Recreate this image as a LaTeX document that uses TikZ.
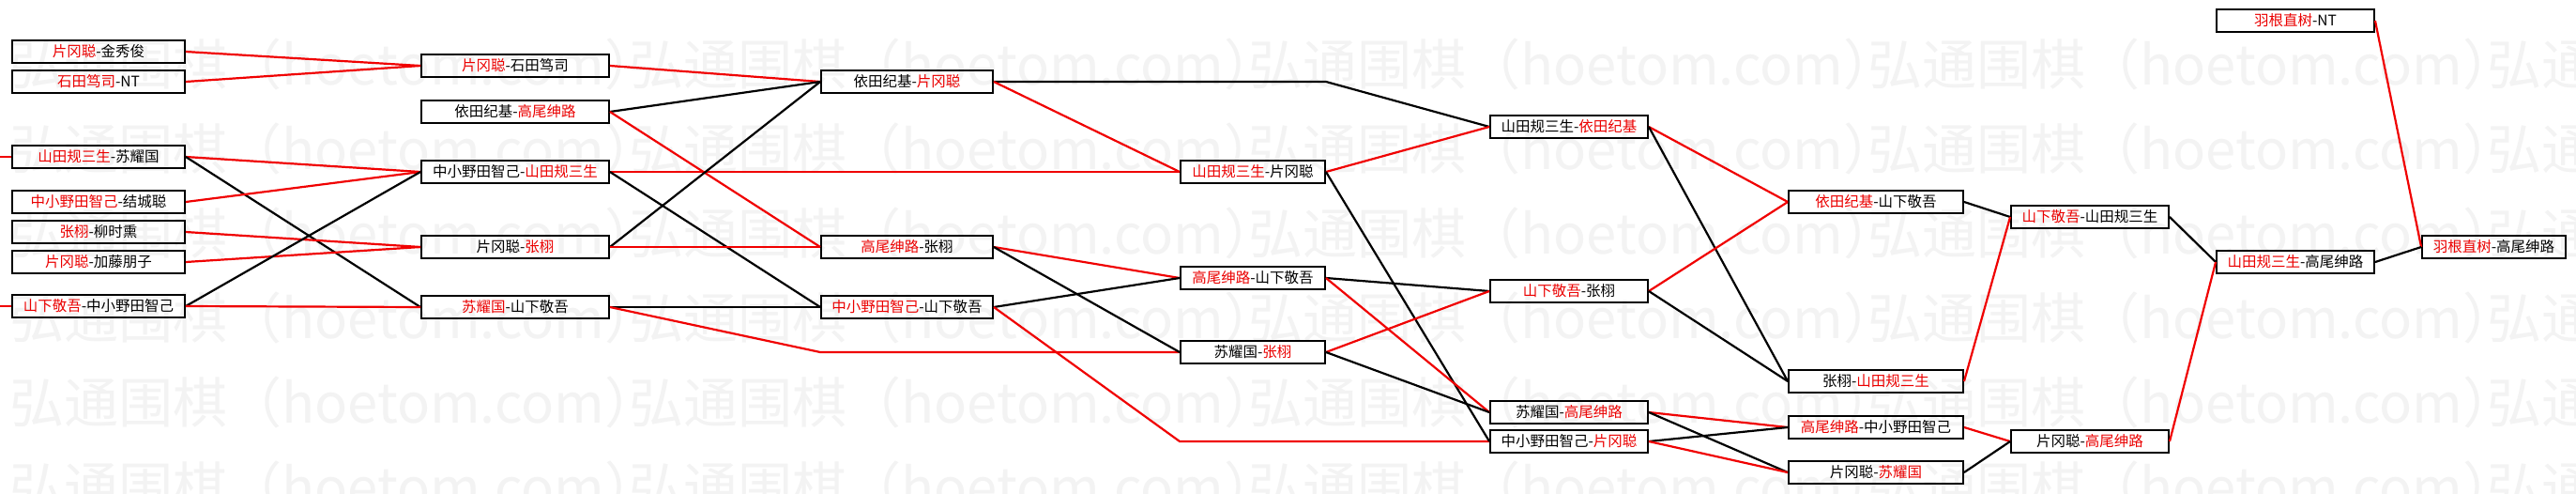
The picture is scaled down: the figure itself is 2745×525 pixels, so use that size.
\documentclass[tikz,border=0pt]{standalone}
\usepackage{fontspec}
\setmainfont{Noto Sans CJK SC}
\definecolor{win}{RGB}{235,0,0}
\definecolor{wline}{RGB}{240,0,0}
\definecolor{wmark}{RGB}{243,243,243}
\newcommand\winr[1]{\textcolor{win}{#1}}
\begin{document}
\begin{tikzpicture}[x=1pt,y=-1pt,
  box/.style={draw=black, line width=2.4pt, minimum height=23.5pt, inner sep=0pt, font=\fontsize{15.5}{16}\selectfont},
  c1/.style={box, minimum width=183.5pt},
  c2/.style={box, minimum width=199.5pt},
  c3/.style={box, minimum width=182.5pt},
  c4/.style={box, minimum width=153.5pt},
  c5/.style={box, minimum width=167.5pt},
  c6/.style={box, minimum width=185.5pt},
  c9/.style={box, minimum width=152.5pt},
  rl/.style={draw=wline, line width=2.2pt},
  bl/.style={draw=black, line width=2.2pt},
  wm/.style={text=wmark, font=\fontsize{58}{60}\selectfont, anchor=west, inner sep=0pt}]
\fill[white] (0,0) rectangle (2745,525);
\useasboundingbox (0,0) rectangle (2745,525);
% watermark
\foreach \r in {0,...,5}{
  \foreach \c in {0,...,4}{
    \node[wm] (wm-\r-\c) at ({10+660*\c},{68+90*\r}) {弘通围棋（hoetom.com）};
  }
}
% column 1
\node[c1] (A) at (105,55) {\winr{片冈聪}-金秀俊};
\node[c1] (B) at (105,87) {\winr{石田笃司}-NT};
\node[c1] (C) at (105,167) {\winr{山田规三生}-苏耀国};
\node[c1] (D) at (105,215) {\winr{中小野田智己}-结城聪};
\node[c1] (E) at (105,247) {\winr{张栩}-柳时熏};
\node[c1] (F) at (105,279) {\winr{片冈聪}-加藤朋子};
\node[c1] (G) at (105,326) {\winr{山下敬吾}-中小野田智己};
% column 2
\node[c2] (H) at (549,70) {\winr{片冈聪}-石田笃司};
\node[c2] (I) at (549,119) {依田纪基-\winr{高尾绅路}};
\node[c2] (J) at (549,183) {中小野田智己-\winr{山田规三生}};
\node[c2] (K) at (549,263) {片冈聪-\winr{张栩}};
\node[c2] (L) at (549,327) {\winr{苏耀国}-山下敬吾};
% column 3
\node[c3] (M) at (966.5,87) {依田纪基-\winr{片冈聪}};
\node[c3] (N) at (966.5,263) {\winr{高尾绅路}-张栩};
\node[c3] (O) at (966.5,327) {\winr{中小野田智己}-山下敬吾};
% column 4
\node[c4] (P) at (1335,183) {\winr{山田规三生}-片冈聪};
\node[c4] (Q) at (1335,296) {\winr{高尾绅路}-山下敬吾};
\node[c4] (R) at (1335,375) {苏耀国-\winr{张栩}};
% column 5
\node[c5] (S) at (1672,135) {山田规三生-\winr{依田纪基}};
\node[c5] (T) at (1672,310) {\winr{山下敬吾}-张栩};
\node[c5] (U) at (1672,439) {苏耀国-\winr{高尾绅路}};
\node[c5] (V) at (1672,470) {中小野田智己-\winr{片冈聪}};
% column 6
\node[c6] (W) at (1999,215) {\winr{依田纪基}-山下敬吾};
\node[c6] (X) at (1999,406) {张栩-\winr{山田规三生}};
\node[c6] (Y) at (1999,455) {\winr{高尾绅路}-中小野田智己};
\node[c6] (Z) at (1999,503) {片冈聪-\winr{苏耀国}};
% column 7
\node[c5] (AA) at (2227,231) {\winr{山下敬吾}-山田规三生};
\node[c5] (AB) at (2227,470) {片冈聪-\winr{高尾绅路}};
% column 8
\node[c5] (AC) at (2446,22) {\winr{羽根直树}-NT};
\node[c5] (AD) at (2446,279) {\winr{山田规三生}-高尾绅路};
% column 9
\node[c9] (AE) at (2657.5,263) {\winr{羽根直树}-高尾绅路};
% stubs
\coordinate (s1) at (0,167);
\coordinate (s2) at (0,326);
\draw[rl] (s1) -- (C.west);
\draw[rl] (s2) -- (G.west);
% round 1
\draw[rl] (A.east) -- (H.west);
\draw[rl] (B.east) -- (H.west);
\draw[rl] (C.east) -- (J.west);
\draw[bl] (C.east) -- (L.west);
\draw[rl] (D.east) -- (J.west);
\draw[rl] (E.east) -- (K.west);
\draw[rl] (F.east) -- (K.west);
\draw[bl] (G.east) -- (J.west);
\draw[rl] (G.east) -- (L.west);
% round 2
\draw[rl] (H.east) -- (M.west);
\draw[bl] (I.east) -- (M.west);
\draw[rl] (I.east) -- (N.west);
\draw[rl] (J.east) -- (P.west);
\draw[bl] (J.east) -- (O.west);
\draw[bl] (K.east) -- (M.west);
\draw[rl] (K.east) -- (N.west);
\draw[bl] (L.east) -- (O.west);
\draw[rl] (L.east) -- (O.west |- R.west) -- (R.west);
% round 3
\draw[bl] (M.east) -- (P.east |- M.east) -- (S.west);
\draw[rl] (M.east) -- (P.west);
\draw[rl] (N.east) -- (Q.west);
\draw[bl] (N.east) -- (R.west);
\draw[bl] (O.east) -- (Q.west);
\draw[rl] (O.east) -- (R.west |- V.west) -- (V.west);
% round 4
\draw[rl] (P.east) -- (S.west);
\draw[bl] (P.east) -- (V.west);
\draw[bl] (Q.east) -- (T.west);
\draw[rl] (Q.east) -- (U.west);
\draw[rl] (R.east) -- (T.west);
\draw[bl] (R.east) -- (U.west);
% round 5
\draw[rl] (S.east) -- (W.west);
\draw[bl] (S.east) -- (X.west);
\draw[rl] (T.east) -- (W.west);
\draw[bl] (T.east) -- (X.west);
\draw[rl] (U.east) -- (Y.west);
\draw[bl] (U.east) -- (Z.west);
\draw[bl] (V.east) -- (Y.west);
\draw[rl] (V.east) -- (Z.west);
% round 6
\draw[bl] (W.east) -- (AA.west);
\draw[rl] (X.east) -- (AA.west);
\draw[rl] (Y.east) -- (AB.west);
\draw[bl] (Z.east) -- (AB.west);
% round 7
\draw[bl] (AA.east) -- (AD.west);
\draw[rl] (AB.east) -- (AD.west);
% final
\draw[rl] (AC.east) -- (AE.west);
\draw[bl] (AD.east) -- (AE.west);
\end{tikzpicture}
\end{document}
